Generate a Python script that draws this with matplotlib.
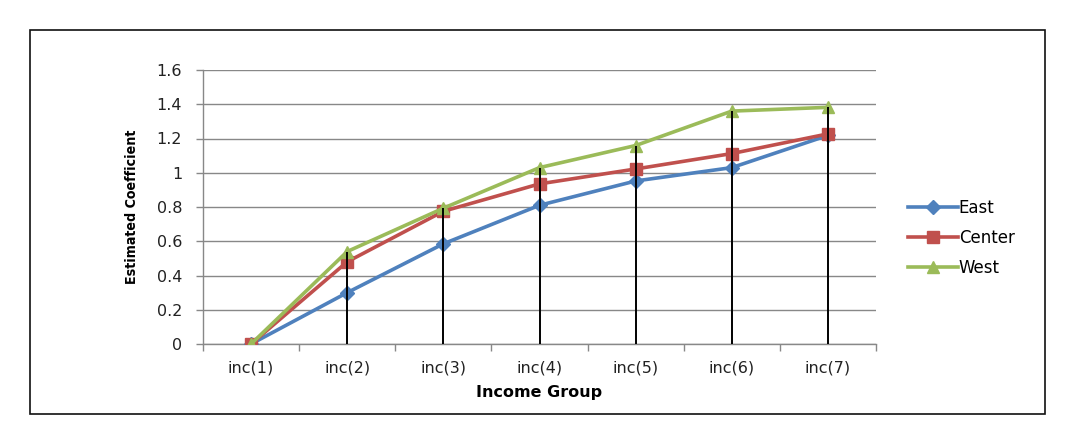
import numpy as np
import matplotlib
matplotlib.use("Agg")
import matplotlib.pyplot as plt
from matplotlib.patches import Rectangle
from matplotlib.ticker import FixedLocator

# values
groups = ["inc(1)", "inc(2)", "inc(3)", "inc(4)", "inc(5)", "inc(6)", "inc(7)"]
east = [0.0, 0.30, 0.585, 0.81, 0.952, 1.03, 1.218]
center = [0.0, 0.48, 0.775, 0.935, 1.022, 1.112, 1.227]
west = [0.0, 0.54, 0.793, 1.03, 1.159, 1.36, 1.382]
yticks = [0, 0.2, 0.4, 0.6, 0.8, 1, 1.2, 1.4, 1.6]
ytick_labels = ["0", "0.2", "0.4", "0.6", "0.8", "1", "1.2", "1.4", "1.6"]

plt.rcParams["font.family"] = ["DejaVu Sans"]

W, H = 1073, 421
fig = plt.figure(figsize=(W / 100, H / 100), dpi=100)
ax = fig.add_axes([203 / W, 1 - 344 / H, (876 - 203) / W, (344 - 70) / H])

x = np.arange(len(groups))

# drop lines from zero up to the highest series
tops = np.max(np.vstack([east, center, west]), axis=0)
ax.vlines(x, 0, tops, color="black", linewidth=1.4, zorder=4)

ax.plot(x, east, color="#4F81BD", linewidth=2.6, marker="D", markersize=7,
        label="East", zorder=3)
ax.plot(x, center, color="#C0504D", linewidth=2.6, marker="s", markersize=9,
        label="Center", zorder=3)
ax.plot(x, west, color="#9BBB59", linewidth=2.6, marker="^", markersize=9,
        label="West", zorder=3)

ax.set_xlim(-0.5, len(groups) - 0.5)
ax.set_ylim(0, 1.6)
ax.set_yticks(yticks)
ax.set_yticklabels(ytick_labels)
ax.set_xticks(x)
ax.set_xticklabels(groups)
ax.xaxis.set_minor_locator(FixedLocator(np.arange(-0.5, len(groups), 1.0)))
ax.tick_params(axis="x", which="major", length=0, pad=12, labelsize=11.5,
               labelcolor="#222222")
ax.tick_params(axis="x", which="minor", length=5, color="#888888", width=1)
ax.tick_params(axis="y", length=5, color="#888888", width=1, pad=10,
               labelsize=11.5, labelcolor="#222222")

ax.grid(axis="y", color="#888888", linewidth=1)
ax.set_axisbelow(True)
for side in ["top", "right"]:
    ax.spines[side].set_visible(False)
for side in ["left", "bottom"]:
    ax.spines[side].set_color("#888888")
    ax.spines[side].set_linewidth(1)

ax.set_xlabel("Income Group", fontsize=11.5, fontweight="bold", labelpad=7)
ax.set_ylabel("Estimated Coefficient", fontsize=10.2, fontweight="bold",
              fontstretch="condensed", labelpad=13)

fig.legend(loc="center left", bbox_to_anchor=(893 / W, 1 - 238 / H),
           frameon=False, fontsize=12, handlelength=3.0, handletextpad=0.05,
           labelspacing=0.72)

# outer frame
fig.patches.append(Rectangle((29.5 / W, 1 - 414 / H), (1045 - 29.5) / W,
                             (414 - 29.5) / H, transform=fig.transFigure,
                             fill=False, edgecolor="#111111", linewidth=1.2))

fig.savefig("out.png", dpi=100)
